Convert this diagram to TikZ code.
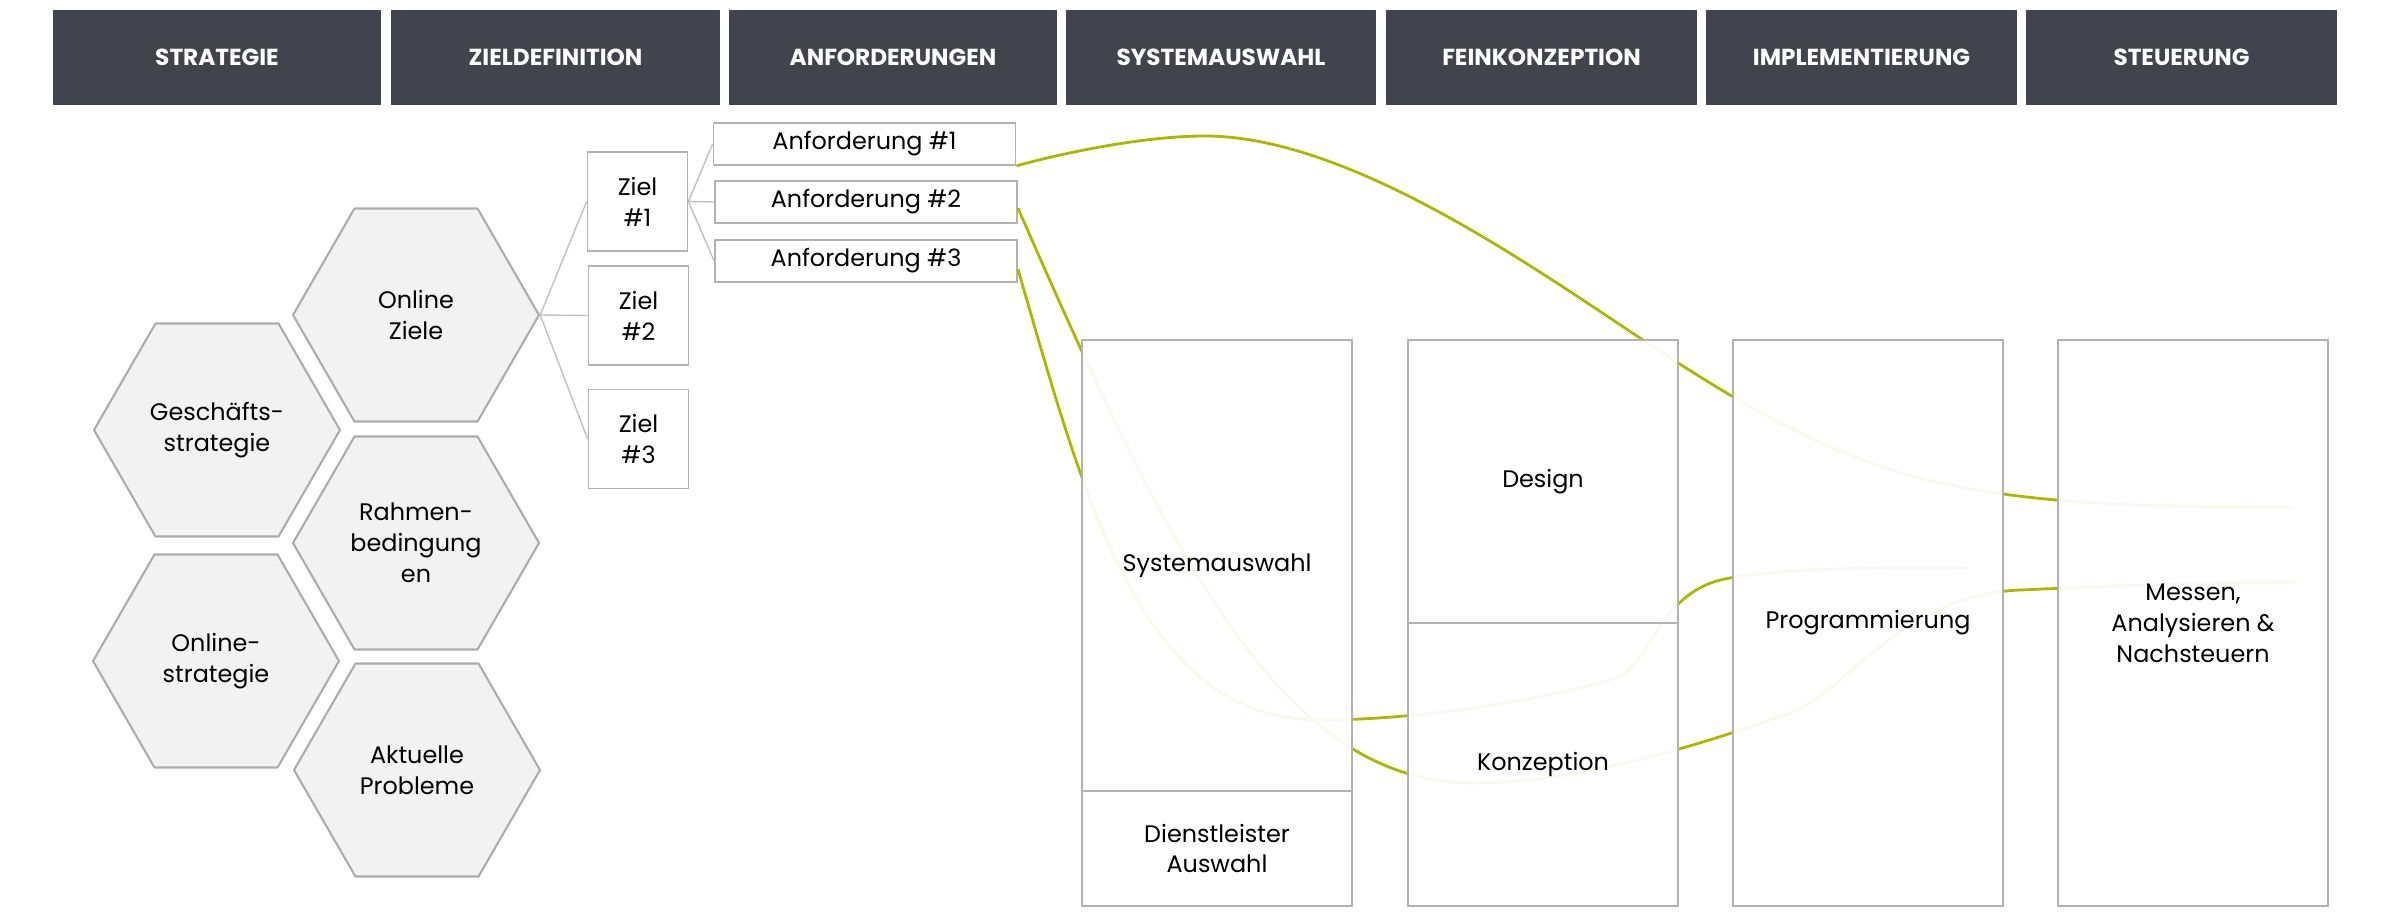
\documentclass[tikz,border=0pt]{standalone}
\usepackage{fontspec}
\setmainfont{Poppins}
\usetikzlibrary{shapes.geometric}

\definecolor{headgray}{RGB}{65,68,76}
\definecolor{hexfill}{RGB}{242,242,242}
\definecolor{hexline}{RGB}{172,172,172}
\definecolor{boxline}{RGB}{178,178,178}
\definecolor{linkgray}{RGB}{192,192,192}
\definecolor{flowgreen}{RGB}{170,184,0}

\tikzset{
    head/.style={fill=headgray, text=white, font=\fontsize{6.6}{8}\selectfont\bfseries, minimum height=0.95cm, inner sep=0pt},
    hexa/.style={regular polygon, regular polygon sides=6, minimum size=2.46cm, fill=hexfill, draw=hexline, line width=0.6pt, align=center, inner sep=0pt},
    zielbox/.style={draw=boxline, line width=0.5pt, minimum width=1.0cm, minimum height=0.99cm, align=center, inner sep=0pt},
    anfbox/.style={draw=boxline, line width=0.5pt, minimum width=3.02cm, minimum height=0.42cm, inner sep=0pt},
    phase/.style={draw=boxline, line width=0.7pt, fill=white, fill opacity=0.93, text opacity=1, draw opacity=1, minimum width=2.7cm, align=center, inner sep=0pt},
    link/.style={draw=linkgray, line width=0.4pt},
    flow/.style={draw=flowgreen, line width=0.8pt}
}

\begin{document}
\begin{tikzpicture}[font=\fontsize{6.8}{8.8}\selectfont]
    \useasboundingbox (0,0) rectangle (23.99,-9.18);
    \node[head, minimum width=3.28cm] (h1) at (2.17,-0.575) {STRATEGIE};
    \node[head, minimum width=3.29cm] (h2) at (5.555,-0.575) {ZIELDEFINITION};
    \node[head, minimum width=3.28cm] (h3) at (8.93,-0.575) {ANFORDERUNGEN};
    \node[head, minimum width=3.10cm] (h4) at (12.21,-0.575) {SYSTEMAUSWAHL};
    \node[head, minimum width=3.11cm] (h5) at (15.415,-0.575) {FEINKONZEPTION};
    \node[head, minimum width=3.11cm] (h6) at (18.615,-0.575) {IMPLEMENTIERUNG};
    \node[head, minimum width=3.11cm] (h7) at (21.815,-0.575) {STEUERUNG};
    \node[hexa] (oz) at (4.16,-3.15) {Online\\Ziele};
    \node[hexa] (gs) at (2.17,-4.30) {Geschäfts-\\strategie};
    \node[hexa] (rb) at (4.16,-5.43) {Rahmen-\\bedingung\\en};
    \node[hexa] (os) at (2.16,-6.61) {Online-\\strategie};
    \node[hexa] (ap) at (4.17,-7.70) {Aktuelle\\Probleme};
    \node[zielbox] (z1) at (6.375,-2.015) {Ziel\\\#1};
    \node[zielbox] (z2) at (6.385,-3.155) {Ziel\\\#2};
    \node[zielbox] (z3) at (6.385,-4.39) {Ziel\\\#3};
    \node[anfbox] (a1) at (8.645,-1.44) {Anforderung \#1};
    \node[anfbox] (a2) at (8.66,-2.02) {Anforderung \#2};
    \node[anfbox] (a3) at (8.66,-2.61) {Anforderung \#3};
    \draw[link] (oz.east) -- (z1.west);
    \draw[link] (oz.east) -- (z2.west);
    \draw[link] (oz.east) -- (z3.west);
    \draw[link] (z1.east) -- (a1.west);
    \draw[link] (z1.east) -- (a2.west);
    \draw[link] (z1.east) -- (a3.west);
    \coordinate (m1) at (22.93,-5.07);
    \coordinate (m2) at (22.97,-5.82);
    \coordinate (m3) at (19.69,-5.68);
    \draw[flow] (a1.south east) .. controls (10.55,-1.55) and (11.4,-1.36) .. (12.05,-1.36) .. controls (13.2,-1.36) and (14.6,-2.2) .. (15.6,-2.85) .. controls (16.8,-3.63) and (18.0,-4.55) .. (19.5,-4.85) .. controls (20.5,-5.05) and (21.5,-5.07) .. (m1);
    \draw[flow] ([yshift=-0.6mm]a2.east) .. controls (11.7,-5.55) and (12.8,-7.83) .. (14.73,-7.83) .. controls (15.8,-7.83) and (17.0,-7.45) .. (17.9,-7.13) .. controls (18.5,-6.9) and (19.0,-5.95) .. (20.2,-5.9) .. controls (21.0,-5.865) and (22.0,-5.82) .. (m2);
    \draw[flow] ([yshift=-0.8mm]a3.east) .. controls (10.85,-5.0) and (11.4,-7.2) .. (13.2,-7.2) .. controls (14.2,-7.2) and (15.4,-7.0) .. (16.1,-6.8) .. controls (16.55,-6.67) and (16.55,-5.9) .. (17.3,-5.78) .. controls (17.9,-5.68) and (18.8,-5.67) .. (m3);
    \node[phase, minimum height=4.51cm] (sysw) at (12.17,-5.655) {Systemauswahl};
    \node[phase, minimum height=1.15cm] (dienst) at (12.17,-8.485) {Dienstleister\\Auswahl};
    \node[phase, minimum height=2.83cm] (design) at (15.43,-4.815) {Design};
    \node[phase, minimum height=2.83cm] (konz) at (15.43,-7.645) {Konzeption};
    \node[phase, minimum height=5.66cm] (prog) at (18.68,-6.23) {Programmierung};
    \node[phase, minimum height=5.66cm] (mess) at (21.93,-6.23) {Messen,\\Analysieren \&\\Nachsteuern};
\end{tikzpicture}
\end{document}
